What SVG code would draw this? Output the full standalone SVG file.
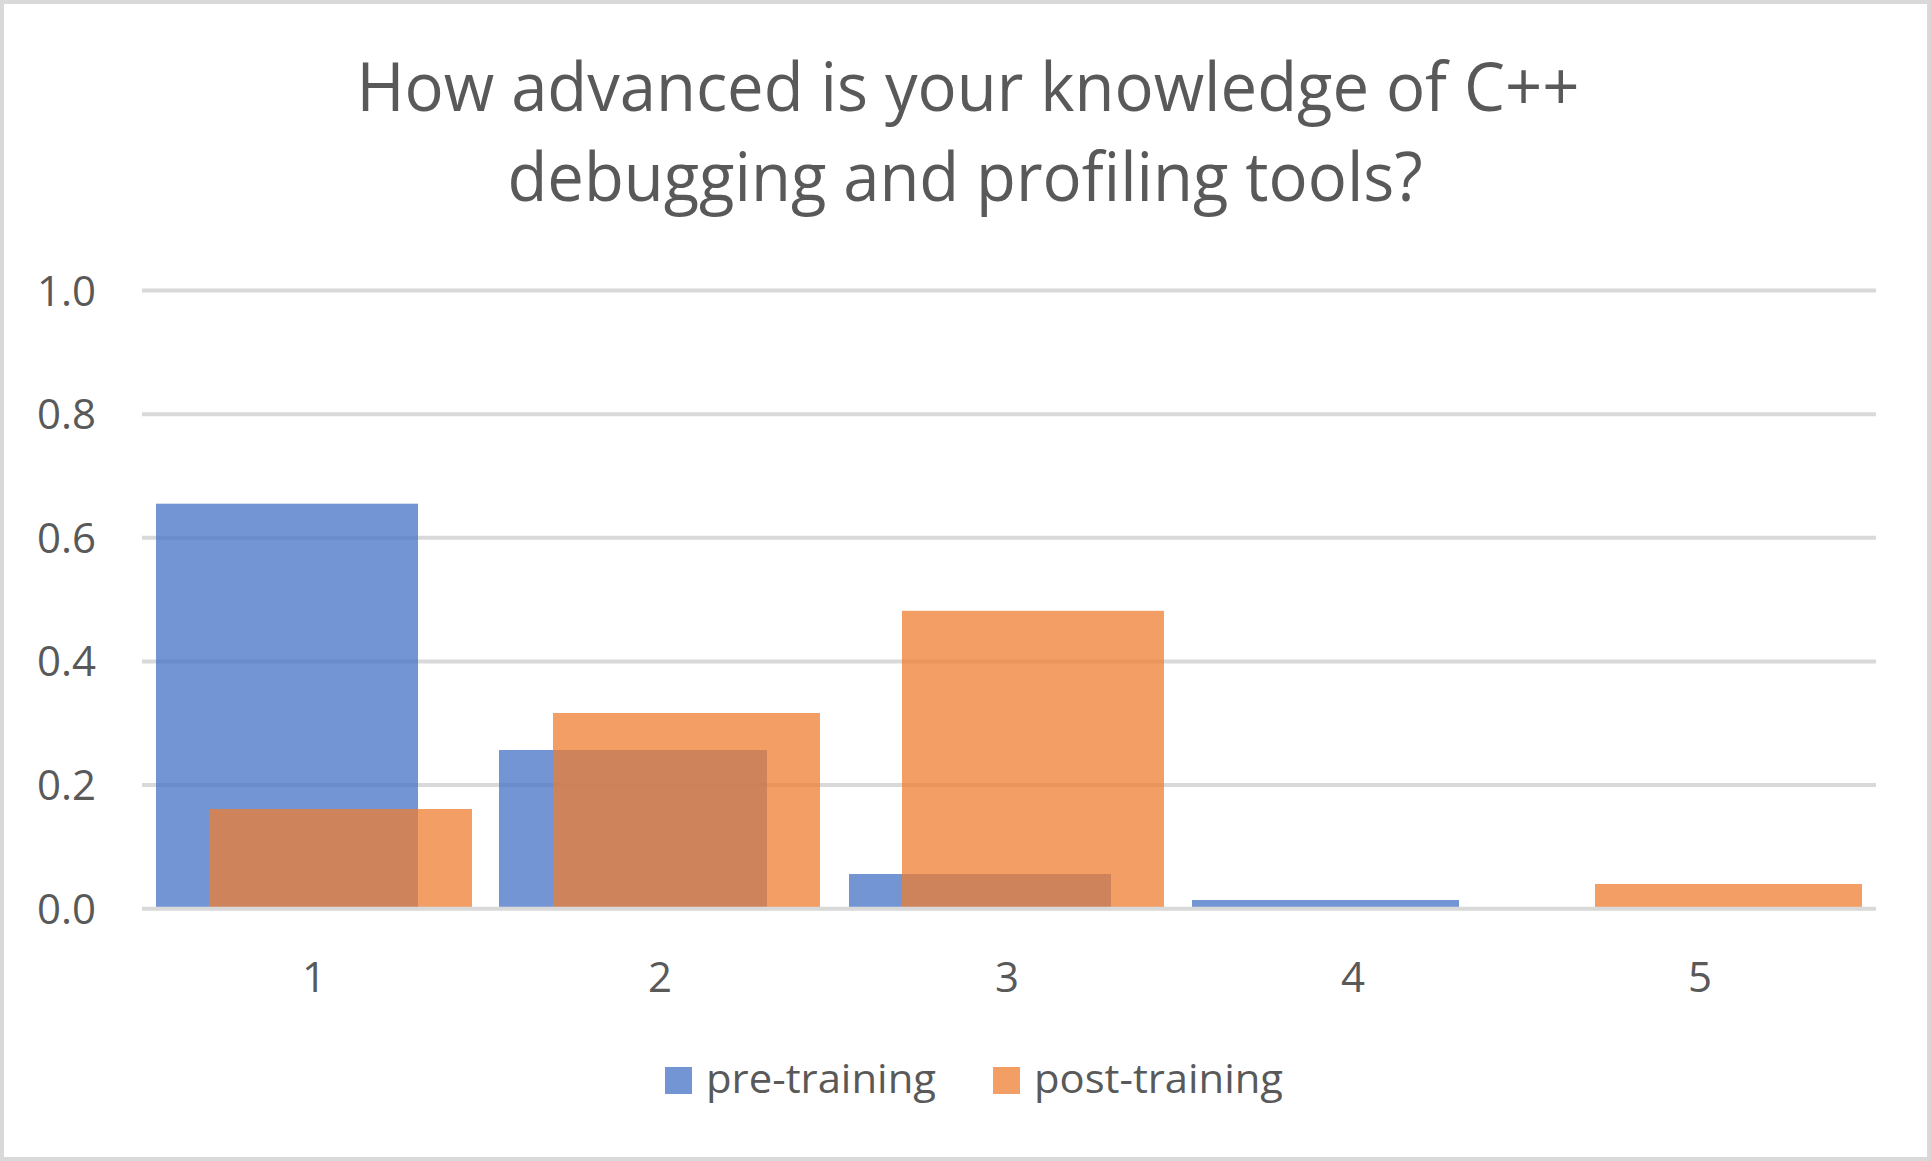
<svg xmlns="http://www.w3.org/2000/svg" width="1931" height="1161" viewBox="0 0 1931 1161">
<style>
.t{font-family:"Open Sans","Liberation Sans",sans-serif;fill:#595959}
.grid{stroke:#d9d9d9;stroke-width:4}
.pre{fill:#4472c4;fill-opacity:0.75}
.post{fill:#ed7d31;fill-opacity:0.75}
</style>
<rect x="2" y="2" width="1927" height="1157" fill="#ffffff" stroke="#d9d9d9" stroke-width="4"/>
<g id="title" class="t" font-size="67" text-anchor="middle">
<text x="968" y="111" textLength="1223" lengthAdjust="spacingAndGlyphs">How advanced is your knowledge of C++</text>
<text x="965" y="201" textLength="915" lengthAdjust="spacingAndGlyphs">debugging and profiling tools?</text>
</g>
<g id="gridlines">
<line class="grid" x1="142" y1="290.6" x2="1876" y2="290.6"/>
<line class="grid" x1="142" y1="414.2" x2="1876" y2="414.2"/>
<line class="grid" x1="142" y1="537.8" x2="1876" y2="537.8"/>
<line class="grid" x1="142" y1="661.4" x2="1876" y2="661.4"/>
<line class="grid" x1="142" y1="785" x2="1876" y2="785"/>
</g>
<g id="y-axis" class="t" font-size="42" text-anchor="end">
<text x="96" y="305.5">1.0</text>
<text x="96" y="429">0.8</text>
<text x="96" y="552.5">0.6</text>
<text x="96" y="676">0.4</text>
<text x="96" y="800">0.2</text>
<text x="96" y="924">0.0</text>
</g>
<g id="series-pre">
<rect class="pre" x="156" y="503.7" width="262" height="405.3"/>
<rect class="pre" x="499" y="750" width="268" height="159"/>
<rect class="pre" x="849" y="874" width="262" height="35"/>
<rect class="pre" x="1192" y="900" width="267" height="9"/>
</g>
<g id="series-post">
<rect class="post" x="209" y="809" width="263" height="100"/>
<rect class="post" x="553" y="713" width="267" height="196"/>
<rect class="post" x="902" y="610.8" width="262" height="298.2"/>
<rect class="post" x="1595" y="884" width="267" height="25"/>
</g>
<g id="x-axis">
<line class="grid" x1="142" y1="908.8" x2="1876" y2="908.8"/>
<g class="t" font-size="42" text-anchor="middle">
<text x="314" y="992">1</text>
<text x="660" y="992">2</text>
<text x="1007" y="992">3</text>
<text x="1353" y="992">4</text>
<text x="1700" y="992">5</text>
</g>
</g>
<g id="legend">
<rect class="pre" x="665" y="1067" width="27" height="27"/>
<text class="t" x="706" y="1093" font-size="40" textLength="230" lengthAdjust="spacingAndGlyphs">pre-training</text>
<rect class="post" x="993" y="1067" width="27" height="27"/>
<text class="t" x="1034" y="1093" font-size="40" textLength="249" lengthAdjust="spacingAndGlyphs">post-training</text>
</g>
</svg>
